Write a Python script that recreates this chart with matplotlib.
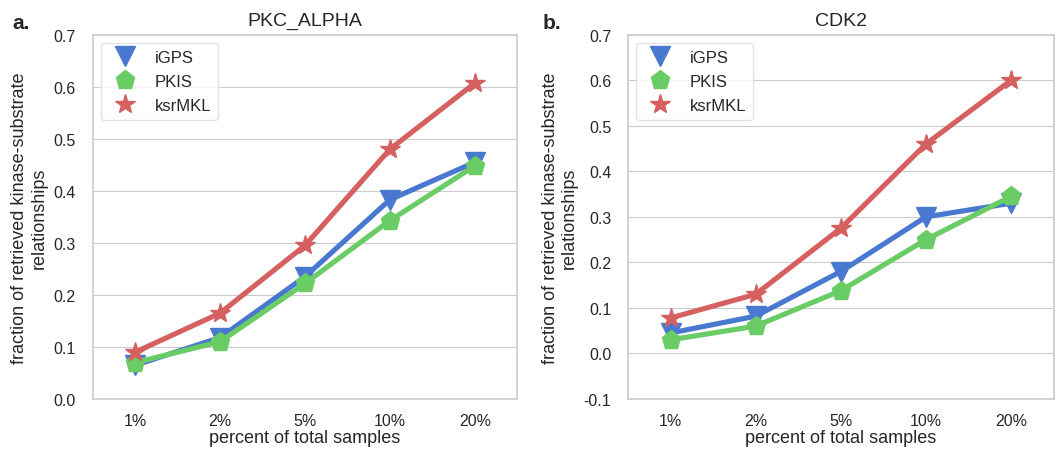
import numpy as np
import matplotlib
matplotlib.use("Agg")
import matplotlib.pyplot as plt
import seaborn as sns

# ============================================================
# Data
# ============================================================

percents = ["1%", "2%", "5%", "10%", "20%"]

pkc_igps = [0.065, 0.118, 0.235, 0.383, 0.455]
pkc_pkis = [0.070, 0.110, 0.222, 0.343, 0.448]
pkc_ksrmkl = [0.090, 0.165, 0.295, 0.480, 0.607]

cdk_igps = [0.045, 0.082, 0.180, 0.300, 0.330]
cdk_pkis = [0.030, 0.060, 0.138, 0.250, 0.345]
cdk_ksrmkl = [0.078, 0.130, 0.275, 0.460, 0.600]

# ============================================================
# Style
# ============================================================

sns.set_style("whitegrid")
plt.rcParams["font.family"] = ["Liberation Sans", "DejaVu Sans"]
plt.rcParams["text.color"] = ".15"
plt.rcParams["axes.labelcolor"] = ".15"
plt.rcParams["xtick.color"] = ".15"
plt.rcParams["ytick.color"] = ".15"

blue = "#4878CF"
green = "#6ACC65"
red = "#D65F5F"

fig = plt.figure(figsize=(10.59, 4.52), dpi=100)
ax1 = fig.add_axes([0.0875, 0.115, 0.401, 0.806])
ax2 = fig.add_axes([0.593, 0.115, 0.402, 0.806])

x = np.arange(len(percents))


def draw(ax, igps, pkis, ksr, title, ylim, yticks):
    ax.plot(x, igps, color=blue, lw=3.7, marker="v", ms=14, label="iGPS")
    ax.plot(x, pkis, color=green, lw=3.7, marker="p", ms=14, label="PKIS")
    ax.plot(x, ksr, color=red, lw=3.7, marker="*", ms=15, label="ksrMKL")
    ax.set_xlim(-0.5, 4.5)
    ax.set_ylim(*ylim)
    ax.set_yticks(yticks)
    ax.set_yticklabels(["%.1f" % t for t in yticks])
    ax.set_xticks(x)
    ax.set_xticklabels(percents)
    ax.xaxis.grid(False)
    ax.tick_params(axis="x", labelsize=11.5, pad=6.5)
    ax.tick_params(axis="y", labelsize=11.5, pad=8.5)
    ax.set_title(title, fontsize=14, pad=7)
    ax.set_xlabel("percent of total samples", fontsize=13, labelpad=0.5)
    for s in ax.spines.values():
        s.set_color("#cccccc")
        s.set_linewidth(1.2)
    leg = ax.legend(loc="upper left", frameon=True, fontsize=12,
                    borderpad=0.4, labelspacing=0.55, handletextpad=0.72,
                    handlelength=2.1, borderaxespad=0.5, numpoints=1)
    for h in leg.get_lines():
        h.set_linestyle("")
    leg.get_frame().set_edgecolor("#dddddd")


draw(ax1, pkc_igps, pkc_pkis, pkc_ksrmkl, "PKC_ALPHA",
     (0.0, 0.7), np.arange(0.0, 0.71, 0.1))
draw(ax2, cdk_igps, cdk_pkis, cdk_ksrmkl, "CDK2",
     (-0.1, 0.7), np.arange(-0.1, 0.71, 0.1))

ax1.set_ylabel("fraction of retrieved kinase-substrate\nrelationships", fontsize=13)
ax2.set_ylabel("fraction of retrieved kinase-substrate\nrelationships", fontsize=13)

fig.text(0.012, 0.935, "a.", fontsize=15, fontweight="bold")
fig.text(0.512, 0.935, "b.", fontsize=15, fontweight="bold")

fig.savefig("out.png", dpi=100)
